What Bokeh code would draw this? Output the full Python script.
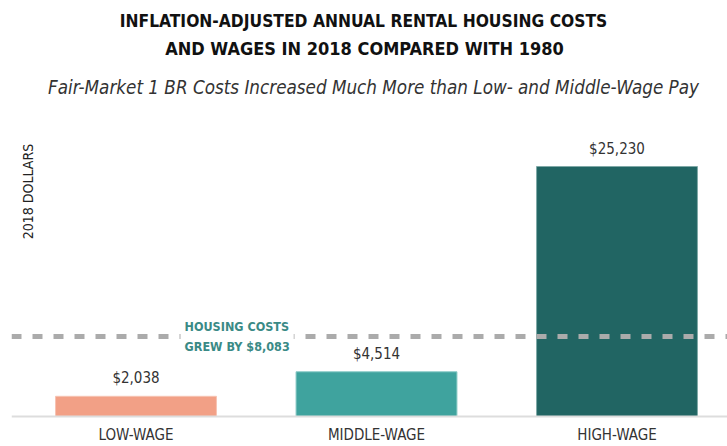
from bokeh.plotting import figure
from bokeh.models import ColumnDataSource, Label, Span
from bokeh.core.properties import value
from bokeh.embed import file_html
from bokeh.resources import INLINE

# ---- data ----
categories = ["LOW-WAGE", "MIDDLE-WAGE", "HIGH-WAGE"]
wage_growth = [2038, 4514, 25230]
value_labels = ["$2,038", "$4,514", "$25,230"]
bar_colors = ["#F2A086", "#3FA39E", "#216563"]
edge_colors = ["#F7C3B2", "#8CCBC7", "#7FA9A7"]
housing_growth = 8083
housing_label = "HOUSING COSTS\nGREW BY $8,083"

title_1 = "INFLATION-ADJUSTED ANNUAL RENTAL HOUSING COSTS"
title_2 = "AND WAGES IN 2018 COMPARED WITH 1980"
subtitle = "Fair-Market 1 BR Costs Increased Much More than Low- and Middle-Wage Pay"
y_title = "2018 DOLLARS"

COND = "DejaVu Sans Condensed"

xs = list(range(len(categories)))
src = ColumnDataSource(dict(x=xs, top=wage_growth, base=[0] * len(xs),
                            color=bar_colors, edge=edge_colors,
                            lab=value_labels, cat=categories))

p = figure(width=727, height=446, output_backend="svg", toolbar_location=None,
           x_range=(-0.5177, 2.4595), y_range=(-3028, 41983),
           x_axis_location=None, y_axis_location=None,
           min_border_left=11, min_border_right=0,
           min_border_top=0, min_border_bottom=0)
p.outline_line_color = None
p.grid.visible = False
p.background_fill_color = "white"
p.border_fill_color = "white"

# baseline
p.add_layout(Span(location=0, dimension="width", line_color="#dddddd",
                  line_width=2))

p.vbar(x="x", top="top", bottom=0, width=0.669, fill_color="color",
       line_color="edge", line_width=1, source=src)

# value labels above bars
p.text(x="x", y="top", text="lab", source=src, text_align="center",
       text_baseline="bottom", y_offset=-9, text_font=value(COND),
       text_font_size="15px", text_color="#333333")

# category labels below baseline
p.text(x="x", y="base", text="cat", source=src, text_align="center",
       text_baseline="top", y_offset=10, text_font=value(COND),
       text_font_size="15px", text_color="#333333")

# dashed housing growth line
p.add_layout(Span(location=housing_growth, dimension="width",
                  line_color="#ababab", line_width=5, line_dash="10 11"))

p.add_layout(Label(x=169, y=housing_growth, x_units="screen", y_units="data",
                   text=housing_label, text_font=COND, text_font_size="12.5px",
                   text_font_style="bold", text_color="#3A8A86",
                   text_baseline="middle", text_align="left",
                   background_fill_color="white", text_line_height=1.3,
                   padding=4))

# titles
p.add_layout(Label(x=352, y=426, x_units="screen", y_units="screen",
                   text=title_1, text_font=COND, text_font_size="17.3px",
                   text_font_style="bold", text_color="#111111",
                   text_align="center", text_baseline="middle"))
p.add_layout(Label(x=353, y=398.5, x_units="screen", y_units="screen",
                   text=title_2, text_font=COND, text_font_size="18px",
                   text_font_style="bold", text_color="#111111",
                   text_align="center", text_baseline="middle"))
p.add_layout(Label(x=362, y=359, x_units="screen", y_units="screen",
                   text=subtitle, text_font=COND, text_font_size="18.7px",
                   text_font_style="italic", text_color="#333333",
                   text_align="center", text_baseline="middle"))

# y title
p.add_layout(Label(x=16, y=255, x_units="screen", y_units="screen",
                   text=y_title, text_font=COND, text_font_size="14px",
                   text_color="#222222", angle=90, angle_units="deg",
                   text_align="center", text_baseline="middle"))

open("out.html", "w").write(file_html(p, INLINE))
